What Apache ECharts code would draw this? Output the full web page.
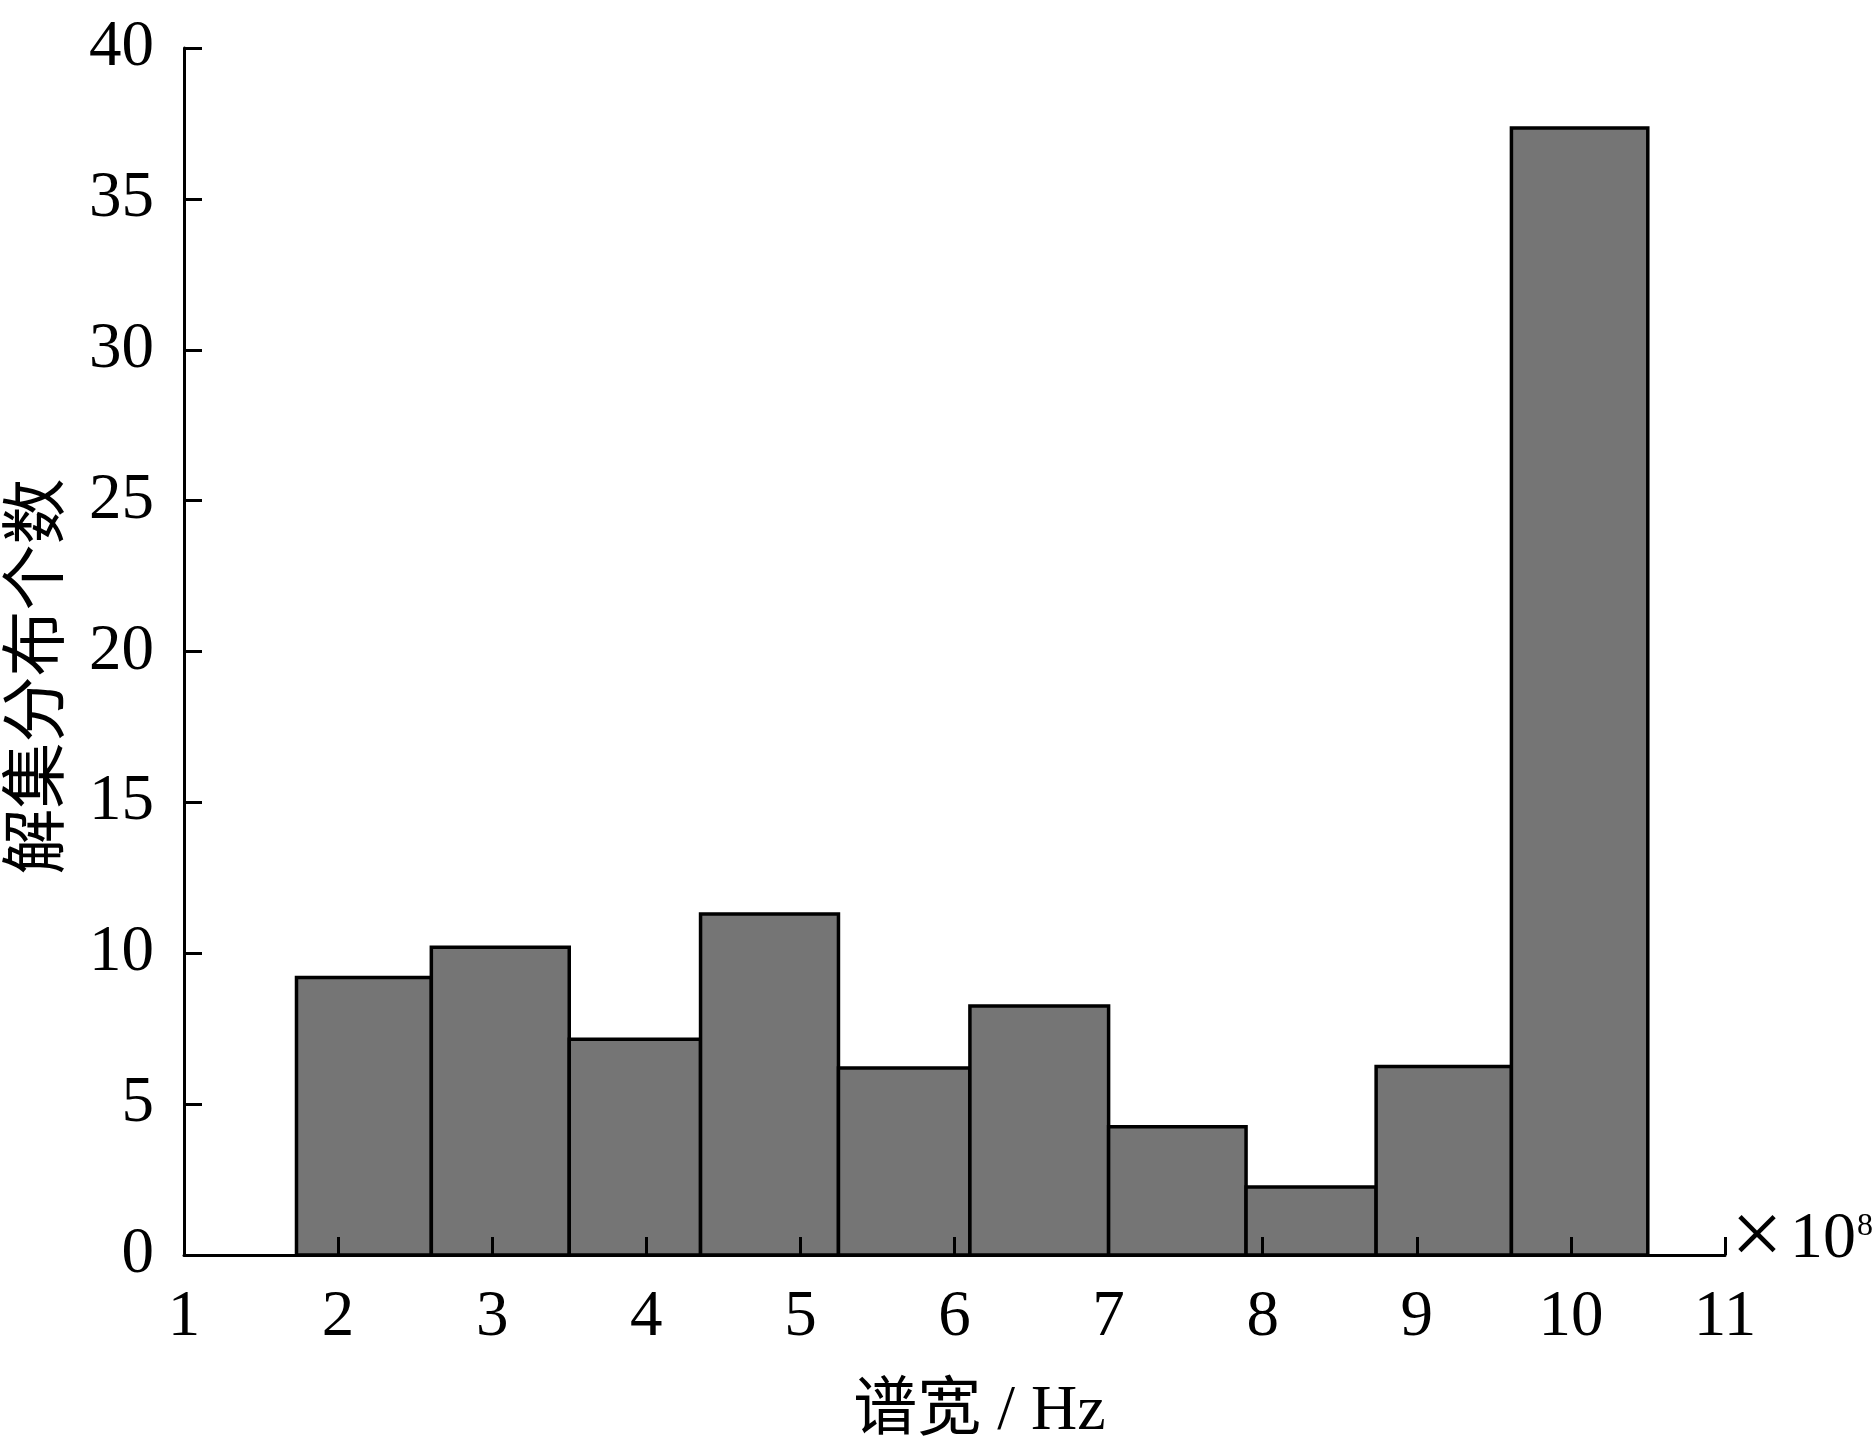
<!DOCTYPE html>
<html>
<head>
<meta charset="utf-8">
<script src="https://cdn.jsdelivr.net/npm/echarts@6/dist/echarts.min.js"></script>
<style>html,body{margin:0;padding:0;background:#fff}#c{width:1875px;height:1448px}</style>
</head>
<body>
<div id="c"></div>
<script>
// Histogram bin edges (×10^8 Hz) and counts
const binEdges = [1.73, 2.605, 3.50, 4.352, 5.247, 6.10, 7.0, 7.892, 8.736, 9.614, 10.499];
const counts = [9.2, 10.2, 7.15, 11.3, 6.2, 8.25, 4.25, 2.25, 6.25, 37.35];
const yTicks = [0, 5, 10, 15, 20, 25, 30, 35, 40];
const xTicks = [1, 2, 3, 4, 5, 6, 7, 8, 9, 10, 11];
const xName = '谱宽 / Hz';
const yName = '解集分布个数';
const xUnit = ['×', '10', '8'];

const serif = '"Liberation Serif","Times New Roman","Noto Sans CJK SC",serif';
const data = counts.map((v, i) => [binEdges[i], binEdges[i + 1], v]);

const chart = echarts.init(document.getElementById('c'));
chart.setOption({
  animation: false,
  backgroundColor: '#fff',
  grid: {left: 184, right: 150, top: 48, bottom: 193, outerBoundsMode: 'none', containLabel: false},
  xAxis: {
    type: 'value', min: xTicks[0], max: xTicks[xTicks.length - 1], interval: 1,
    z: 10,
    axisLine: {lineStyle: {color: '#000', width: 3}},
    axisTick: {inside: true, length: 18, lineStyle: {color: '#000', width: 3}},
    axisLabel: {color: '#000', fontFamily: serif, fontSize: 65, margin: 30},
    splitLine: {show: false},
    name: xName, nameLocation: 'middle', nameGap: 125,
    nameTextStyle: {color: '#000', fontFamily: serif, fontSize: 64, padding: [0, 0, 0, 50]}
  },
  yAxis: {
    type: 'value', min: yTicks[0], max: yTicks[yTicks.length - 1], interval: 5,
    z: 10,
    axisLine: {lineStyle: {color: '#000', width: 3}},
    axisTick: {inside: true, length: 18, lineStyle: {color: '#000', width: 3}},
    axisLabel: {color: '#000', fontFamily: serif, fontSize: 65, margin: 30},
    splitLine: {show: false},
    name: yName, nameLocation: 'middle', nameGap: 118, nameRotate: 90,
    nameTextStyle: {color: '#000', fontFamily: '"Noto Sans CJK SC",sans-serif', fontSize: 66, padding: [0, 50, 0, 0]}
  },
  graphic: [
    {type: 'text', style: {x: 1731, y: 1240, text: xUnit[0], fontFamily: serif, fontSize: 92, fill: '#000', verticalAlign: 'middle', align: 'left'}},
    {type: 'text', style: {x: 1790, y: 1240, text: xUnit[1], fontFamily: serif, fontSize: 66, fill: '#000', verticalAlign: 'middle', align: 'left'}},
    {type: 'text', style: {x: 1857, y: 1211, text: xUnit[2], fontFamily: serif, fontSize: 32, fill: '#000', verticalAlign: 'top', align: 'left'}}
  ],
  series: [{
    type: 'custom',
    data: data,
    encode: {x: [0, 1], y: 2},
    renderItem: function (params, api) {
      const p0 = api.coord([api.value(0), api.value(2)]);
      const p1 = api.coord([api.value(1), 0]);
      return {
        type: 'rect',
        shape: {x: p0[0], y: p0[1], width: p1[0] - p0[0], height: p1[1] - p0[1]},
        style: {fill: '#757575', stroke: '#000', lineWidth: 3.5}
      };
    }
  }]
});
</script>
</body>
</html>
